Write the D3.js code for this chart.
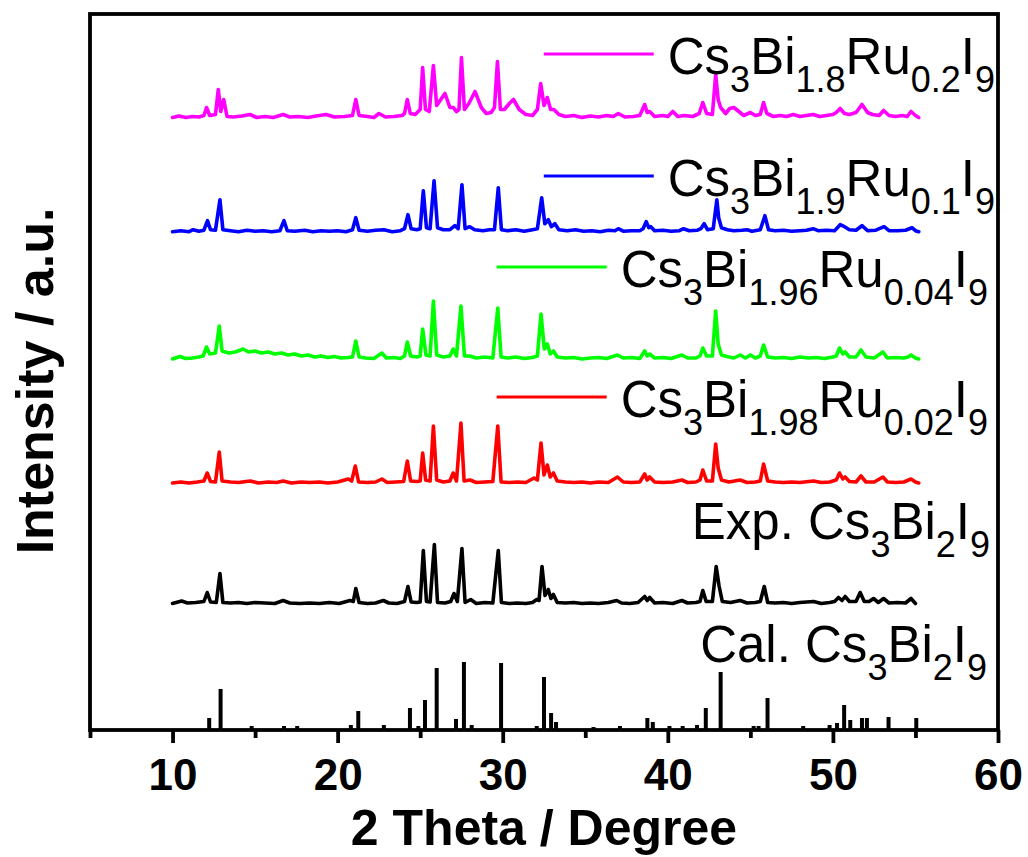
<!DOCTYPE html>
<html>
<head>
<meta charset="utf-8">
<script src="https://cdn.jsdelivr.net/npm/d3@7"></script>
<style>
  html, body { margin: 0; padding: 0; background: #fff; }
  #xrd svg { display: block; }
  .line { fill: none; stroke-linejoin: round; stroke-linecap: round; }
</style>
</head>
<body>
<div id="xrd"></div>
<script>
// 2 theta (deg), intensity above each pattern's own baseline (a.u.)

const calSticks = [
  [12.22,11],[12.91,40],[14.79,3],[16.75,3],[17.55,3],[20.8,4],[21.25,18],[22.8,4],
  [24.38,21],[24.89,3],[25.29,29],[26.0,61],[27.17,10],[27.65,67],[28.12,4],[29.9,66],
  [32.06,3],[32.5,52],[32.93,16],[33.23,7],[35.5,2],[37.1,3],[38.76,11],[39.09,7],
  [40.1,3],[40.9,3],[41.77,4],[42.3,21],[43.2,57],[45.2,3],[45.5,3],[46.04,31],
  [48.2,3],[49.8,4],[50.25,6],[50.68,24],[51.05,9],[51.76,11],[52.06,11],[53.37,12],[55.05,11]
];

const expPattern = [
  [10.0,0],[10.55,2.5],[10.9,0.5],[11.4,1],[11.9,2],[12.1,11],[12.3,1.5],[12.65,1],[12.87,30],
  [13.05,1],[13.5,0.5],[14.0,1],[14.5,0],[15.0,1],[15.6,0.5],[16.2,0],[16.7,3],[17.1,0.5],
  [17.7,0],[18.3,0.5],[18.9,0],[19.5,1],[20.1,0],[20.75,3],[20.95,2],[21.1,15],[21.3,1],
  [21.8,0],[22.3,0.5],[22.77,3],[23.1,0.5],[23.6,0],[24.05,2],[24.26,17],[24.45,1.5],[24.8,1],
  [25.0,1.5],[25.19,53],[25.38,2],[25.6,1.5],[25.86,59],[26.05,1],[26.5,0.5],[26.85,2],[27.05,10],
  [27.25,2],[27.53,55],[27.72,1],[28.06,4],[28.4,0],[28.9,1],[29.4,0.5],[29.73,53],[29.92,1],
  [30.4,0],[30.9,0.5],[31.4,0],[31.8,1],[32.06,4],[32.2,3],[32.38,37],[32.56,8],[32.76,14],
  [32.92,5],[33.07,9],[33.3,1],[33.8,0.5],[34.3,1],[34.8,0],[35.3,0.5],[35.8,0],[36.4,1],
  [36.9,3],[37.2,0.5],[37.7,0],[38.2,1],[38.6,7],[38.75,3],[38.9,6],[39.2,0.5],[39.7,1],
  [40.3,0],[40.85,3],[41.2,0.5],[41.7,1],[41.95,2],[42.12,13],[42.32,2],[42.7,2],[42.93,37],
  [43.1,18],[43.3,2],[43.8,1],[44.38,3],[44.8,0.5],[45.3,1],[45.6,2],[45.84,17],[46.05,1],
  [46.5,0.5],[47.0,1],[47.5,0],[48.0,1],[48.83,2],[49.3,0],[49.8,1],[50.1,2],[50.34,6],
  [50.55,3],[50.74,7],[51.0,2],[51.4,2],[51.65,11],[51.9,2],[52.2,2],[52.46,5],[52.75,1],
  [53.07,5],[53.4,0.5],[53.9,1],[54.4,0.5],[54.73,5],[55.0,0]
];

const ru002Pattern = [
  [10.0,0],[10.5,1],[11.0,0],[11.5,1],[11.9,2],[12.1,10],[12.3,1.5],[12.6,1],[12.83,31],
  [13.0,2],[13.5,1],[14.0,0.5],[14.7,2],[15.2,0],[15.8,1],[16.3,0.5],[16.7,2],[17.2,0],
  [17.8,1],[18.3,0.5],[18.9,1],[19.4,0],[20.0,1],[20.64,4],[20.85,2],[21.07,17],[21.27,1],
  [21.8,0.5],[22.3,1],[22.68,4],[23.0,0.5],[23.5,1],[24.0,1.5],[24.22,22],[24.42,2],[24.8,1.5],
  [25.0,2],[25.15,30],[25.33,3],[25.6,2],[25.8,57],[26.0,3],[26.4,1],[26.8,2],[27.0,10],
  [27.2,2],[27.47,60],[27.66,2],[28.02,3],[28.4,0.5],[28.9,1],[29.4,1.5],[29.7,57],[29.9,1],
  [30.4,0.5],[30.9,1],[31.4,0.5],[31.9,5],[32.1,3],[32.32,40],[32.5,8],[32.7,18],[32.88,6],
  [33.07,10],[33.3,2],[33.8,1],[34.3,0.5],[34.8,1],[35.3,0],[35.8,1],[36.4,0.5],[36.95,6],
  [37.3,1],[37.8,0.5],[38.3,1],[38.6,9],[38.75,3],[38.9,6],[39.2,1],[39.7,0.5],[40.3,1],
  [40.85,3],[41.2,0.5],[41.7,1],[41.95,3],[42.12,13],[42.35,2],[42.7,2],[42.9,39],[43.05,15],
  [43.25,3],[43.7,1],[44.38,3],[44.8,0.5],[45.3,1],[45.6,2],[45.8,19],[46.05,2],[46.5,1],
  [47.0,0.5],[47.5,1],[48.0,0.5],[48.83,2],[49.3,0.5],[49.8,1],[50.2,3],[50.4,10],[50.6,4],
  [50.74,6],[51.0,1.5],[51.4,1],[51.7,7],[52.0,1],[52.5,1],[53.03,6],[53.3,1],[53.8,0.5],
  [54.3,1],[54.73,4],[55.0,1],[55.2,0]
];

const ru004Pattern = [
  [10.0,0],[10.45,2.5],[10.8,0.5],[11.2,1],[11.6,2],[11.85,3],[12.06,12],[12.25,5],[12.6,6],
  [12.83,33],[13.0,8],[13.4,6],[13.8,7],[14.28,10],[14.6,7],[15.0,8],[15.4,6],[15.8,7],
  [16.2,5],[16.6,6],[17.0,4],[17.4,5],[17.8,3],[18.2,4],[18.6,2],[19.0,3],[19.4,1.5],
  [19.8,2.5],[20.2,1],[20.6,1.5],[20.9,2],[21.1,18],[21.3,2],[21.7,1],[22.2,0.5],[22.68,6],
  [22.95,1],[23.4,1.5],[23.8,0.5],[24.05,3],[24.22,17],[24.42,3],[24.8,2],[25.0,3],[25.15,30],
  [25.35,4],[25.6,3],[25.8,58],[26.0,4],[26.4,2],[26.8,3],[27.0,10],[27.2,3],[27.47,53],
  [27.68,3],[28.0,3],[28.4,1],[28.9,2],[29.4,1],[29.7,51],[29.9,2],[30.3,1],[30.8,2],
  [31.3,0.5],[31.8,1.5],[32.1,3],[32.32,45],[32.52,10],[32.7,15],[32.88,5],[33.07,8],[33.3,2],
  [33.8,1],[34.3,1.5],[34.8,0],[35.3,1],[35.8,1.5],[36.3,0.5],[36.95,4],[37.3,1],[37.8,1.5],
  [38.3,0.5],[38.6,8],[38.75,3],[38.9,5],[39.2,1],[39.7,1.5],[40.2,0.5],[40.85,4],[41.2,1],
  [41.7,1],[41.95,3],[42.12,11],[42.35,3],[42.7,3],[42.9,48],[43.05,15],[43.25,4],[43.7,2],
  [44.0,1],[44.38,4],[44.7,1],[45.0,4],[45.3,1],[45.6,3],[45.8,14],[46.05,2],[46.5,1],
  [47.0,1.5],[47.5,0.5],[48.0,2],[48.5,1],[49.0,1.5],[49.5,0.5],[50.0,2],[50.2,3],[50.4,11],
  [50.6,5],[50.74,7],[51.0,2],[51.4,2],[51.7,9],[52.0,2],[52.5,1],[53.03,7],[53.3,1],
  [53.8,1.5],[54.3,1],[54.55,2],[54.73,4],[55.0,1],[55.2,0]
];

const ru01Pattern = [
  [10.0,0],[10.5,1],[11.0,0],[11.25,2],[11.6,0.5],[11.9,1.5],[12.12,11],[12.3,2],[12.6,1.5],
  [12.87,32],[13.05,2],[13.5,1],[14.0,0],[14.5,1.5],[15.0,0.5],[15.5,1],[16.0,0],[16.5,1],
  [16.75,11],[16.95,1],[17.4,0.5],[18.0,1.5],[18.5,0],[19.0,1],[19.5,0.5],[20.0,1],[20.5,0],
  [20.9,2],[21.1,14],[21.3,1.5],[21.8,0.5],[22.3,1.5],[22.8,2],[23.3,0],[23.8,1],[24.05,3],
  [24.26,17],[24.45,3],[24.8,2],[25.0,3],[25.19,41],[25.38,4],[25.6,3],[25.84,51],[26.05,4],
  [26.4,2],[26.8,2],[27.1,6],[27.3,3],[27.53,47],[27.72,3],[28.0,5],[28.3,2],[28.8,1],
  [29.2,2],[29.5,2],[29.73,44],[29.92,2],[30.3,1],[30.8,2],[31.3,0.5],[31.8,2],[32.1,3],
  [32.36,34],[32.55,8],[32.76,12],[32.95,5],[33.16,8],[33.4,2],[33.9,1],[34.4,2],[34.9,0.5],
  [35.4,1],[35.9,0],[36.4,1.5],[36.8,1],[37.0,3],[37.3,0.5],[37.8,1],[38.3,1],[38.5,3],
  [38.69,10],[38.85,4],[38.97,5],[39.2,1],[39.7,1.5],[40.2,0.5],[40.7,1],[40.95,3],[41.3,1],
  [41.8,1.5],[42.0,3],[42.2,8],[42.4,2],[42.75,3],[42.97,32],[43.08,14],[43.25,4],[43.6,2],
  [44.0,1],[44.5,1.5],[44.8,2],[45.1,0.5],[45.6,2],[45.88,16],[46.1,2],[46.5,1],[47.0,1.5],
  [47.5,0.5],[48.0,1],[48.4,1.5],[48.8,3],[49.1,1],[49.6,1.5],[50.1,1],[50.44,7],[50.7,5],
  [51.0,2],[51.4,1.5],[51.76,6],[52.1,1],[52.6,1.5],[53.1,5],[53.4,1],[53.9,1],[54.4,1.5],
  [54.79,4],[55.0,1],[55.2,0]
];

const ru02Pattern = [
  [10.0,0],[10.4,1.5],[10.8,0],[11.2,1],[11.6,0.5],[11.9,2],[12.06,10],[12.25,2],[12.6,3],
  [12.77,28],[12.92,6],[13.1,18],[13.3,1],[13.7,0.5],[14.2,1.5],[14.7,3],[15.1,0],[15.6,1],
  [16.1,0],[16.7,3],[17.1,0.5],[17.6,1],[18.2,0],[18.7,1.5],[19.3,3],[19.8,0.5],[20.4,1],
  [20.9,2],[21.1,18],[21.3,2],[21.8,1],[22.2,0],[22.5,4],[22.9,0.5],[23.4,1],[23.9,2],
  [24.05,4],[24.22,18],[24.4,4],[24.7,3],[25.0,8],[25.15,50],[25.32,8],[25.55,6],[25.8,52],
  [26.0,12],[26.25,18],[26.5,24],[26.8,10],[27.0,10],[27.2,6],[27.35,8],[27.5,60],[27.68,8],
  [27.95,14],[28.32,26],[28.7,10],[29.0,4],[29.3,5],[29.5,10],[29.68,56],[29.86,8],[30.1,8],
  [30.4,14],[30.65,18],[31.0,8],[31.4,3],[31.8,2],[32.1,8],[32.3,34],[32.5,12],[32.7,20],
  [32.9,8],[33.1,8],[33.4,3],[33.8,1],[34.3,2],[34.8,0],[35.3,1.5],[35.8,0.5],[36.3,2],
  [36.7,1],[37.0,4],[37.4,0.5],[37.9,1],[38.3,2],[38.6,13],[38.75,5],[38.9,6],[39.2,1],
  [39.7,2],[40.0,1],[40.3,6],[40.6,1],[41.0,2],[41.5,1],[41.9,4],[42.12,15],[42.35,4],
  [42.7,3],[42.9,43],[43.05,18],[43.2,10],[43.5,4],[43.75,9],[44.0,10],[44.3,6],[44.6,2],
  [45.0,5],[45.3,2],[45.6,3],[45.8,15],[46.0,4],[46.4,1],[46.8,2],[47.2,1],[47.6,3],
  [48.0,1],[48.4,2],[48.8,3],[49.2,1],[49.6,2],[50.0,3],[50.2,5],[50.44,9],[50.7,4],
  [51.0,3],[51.4,5],[51.76,13],[52.1,5],[52.4,3],[52.8,2],[53.07,7],[53.4,2],[53.8,1],
  [54.2,2],[54.5,1],[54.73,6],[55.0,2],[55.2,0]
];

// vertical offsets of the stacked patterns (a.u.)
const offsets = { cal: 1, exp: 126.5, ru002: 247, ru004: 371, ru01: 498.3, ru02: 612.5 };

const majorTicks = [10, 20, 30, 40, 50, 60];
const minorTicks = [5, 15, 25, 35, 45, 55];

// label pieces: [text, isSubscript]
const labels = {
  ru02:  [["Cs",0],["3",1],["Bi",0],["1.8",1],["Ru",0],["0.2",1],["I",0],["9",1]],
  ru01:  [["Cs",0],["3",1],["Bi",0],["1.9",1],["Ru",0],["0.1",1],["I",0],["9",1]],
  ru004: [["Cs",0],["3",1],["Bi",0],["1.96",1],["Ru",0],["0.04",1],["I",0],["9",1]],
  ru002: [["Cs",0],["3",1],["Bi",0],["1.98",1],["Ru",0],["0.02",1],["I",0],["9",1]],
  exp:   [["Exp. Cs",0],["3",1],["Bi",0],["2",1],["I",0],["9",1]],
  cal:   [["Cal. Cs",0],["3",1],["Bi",0],["2",1],["I",0],["9",1]]
};

const width = 1028,
      height = 857;
const plotL = 90, plotR = 998, plotT = 14, plotB = 730;

const x = d3.scaleLinear().domain([5, 60]).range([plotL, plotR]);
const y = d3.scaleLinear().domain([0, 716]).range([plotB, plotT]);

const svg = d3.select('#xrd').append('svg')
    .attr('width', width)
    .attr('height', height)
    .style('font-family', '"Liberation Sans", Arial, sans-serif');

// patterns
const series = [
  { key: 'exp',   data: expPattern,   color: '#000000' },
  { key: 'ru002', data: ru002Pattern, color: '#ff0000' },
  { key: 'ru004', data: ru004Pattern, color: '#00ff00' },
  { key: 'ru01',  data: ru01Pattern,  color: '#0000ff' },
  { key: 'ru02',  data: ru02Pattern,  color: '#ff00ff' }
];

series.forEach(function(s) {
  const off = offsets[s.key];
  const line = d3.line()
    .x(function(d) { return x(d[0]); })
    .y(function(d) { return y(d[1] + off); });
  svg.append('path')
      .datum(s.data)
      .attr('class', 'line')
      .style('stroke', s.color)
      .style('stroke-width', 3.6)
      .attr('d', line);
});

// calculated pattern as sticks
svg.append('g').selectAll('line')
  .data(calSticks)
  .enter().append('line')
    .attr('x1', function(d) { return x(d[0]); })
    .attr('x2', function(d) { return x(d[0]); })
    .attr('y1', y(offsets.cal))
    .attr('y2', function(d) { return y(offsets.cal + d[1]); })
    .style('stroke', '#000')
    .style('stroke-width', 4);

// frame
svg.append('rect')
    .attr('x', plotL)
    .attr('y', plotT)
    .attr('width', plotR - plotL)
    .attr('height', plotB - plotT)
    .style('fill', 'none')
    .style('stroke', '#000')
    .style('stroke-width', 3.8);

// x axis
const xAxis = svg.append('g')
    .attr('class', 'x axis')
    .attr('transform', 'translate(0,' + plotB + ')')
    .call(d3.axisBottom(x).tickValues(majorTicks).tickSize(13).tickPadding(16).tickFormat(d3.format('d')));
xAxis.select('.domain').remove();
xAxis.selectAll('line').style('stroke-width', 3.8);
xAxis.selectAll('text')
    .style('font-family', '"Liberation Sans", Arial, sans-serif')
    .style('font-size', '44px')
    .style('font-weight', 'bold')
    .style('fill', '#000');

const xMinor = svg.append('g')
    .attr('transform', 'translate(0,' + plotB + ')')
    .call(d3.axisBottom(x).tickValues(minorTicks).tickSize(8).tickFormat(''));
xMinor.select('.domain').remove();
xMinor.selectAll('line').style('stroke-width', 3.8);

// axis titles
svg.append('text')
    .attr('x', (plotL + plotR) / 2)
    .attr('y', 845)
    .attr('text-anchor', 'middle')
    .style('font-size', '50px')
    .style('font-weight', 'bold')
    .text('2 Theta / Degree');

svg.append('text')
    .attr('transform', 'translate(53,' + ((plotT + plotB) / 2 + 9) + ') rotate(-90)')
    .attr('text-anchor', 'middle')
    .style('font-size', '52px')
    .style('font-weight', 'bold')
    .text('Intensity / a.u.');

// legend labels
const legend = [
  { key: 'ru02',  endX: 995, baseY: 74,  color: '#ff00ff' },
  { key: 'ru01',  endX: 995, baseY: 196, color: '#0000ff' },
  { key: 'ru004', endX: 988, baseY: 287, color: '#00ff00' },
  { key: 'ru002', endX: 988, baseY: 417, color: '#ff0000' },
  { key: 'exp',   endX: 990, baseY: 539, color: null },
  { key: 'cal',   endX: 987, baseY: 662, color: null }
];

const subShift = 18;
legend.forEach(function(l) {
  const t = svg.append('text')
      .attr('x', l.endX)
      .attr('y', l.baseY)
      .attr('text-anchor', 'end')
      .style('font-size', '51px')
      .style('fill', '#000');
  let down = false;
  labels[l.key].forEach(function(p) {
    const ts = t.append('tspan').text(p[0]);
    if (p[1]) {
      ts.style('font-size', '36px').attr('dy', down ? 0 : subShift);
      down = true;
    } else {
      ts.attr('dy', down ? -subShift : 0);
      down = false;
    }
  });
  if (l.color) {
    const bb = t.node().getBBox();
    svg.append('line')
        .attr('x1', bb.x - 124)
        .attr('x2', bb.x - 14)
        .attr('y1', l.baseY - 20)
        .attr('y2', l.baseY - 20)
        .style('stroke', l.color)
        .style('stroke-width', 3.2);
  }
});
</script>
</body>
</html>
